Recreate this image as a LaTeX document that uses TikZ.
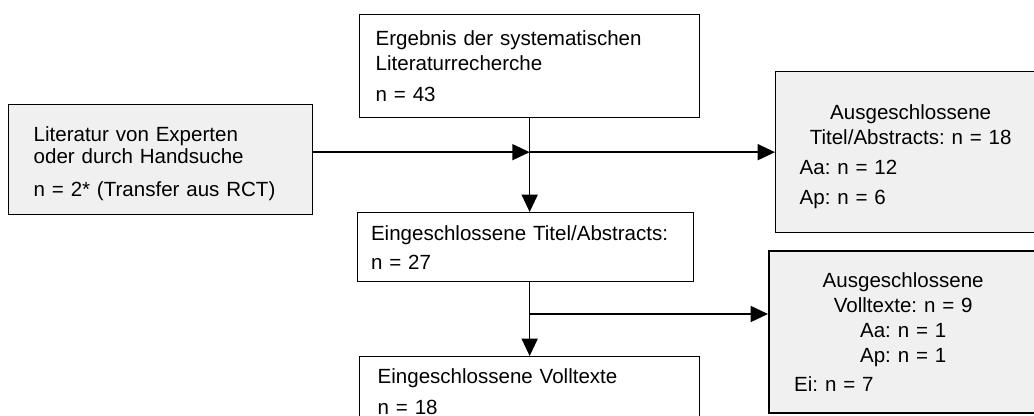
\documentclass[tikz,border=0pt]{standalone}
\usepackage{fontspec}
\setmainfont{Liberation Sans}
\usetikzlibrary{positioning,arrows.meta}

\begin{document}
\frenchspacing
\begin{tikzpicture}[x=0.75pt,y=-0.75pt,
    box/.style = {draw, rectangle, anchor=north west, line width=1pt, inner xsep=12pt, inner ysep=0pt,
                  align=left, font=\fontsize{15.4}{18.75}\selectfont},
    grey/.style = {fill=black!6},
    arr/.style = {line width=1.1pt, -{Triangle[length=13pt,width=12pt]}}]
                        \path[use as bounding box, clip] (0,0) rectangle (1034,416);

                        \node[box, text width=231pt, minimum height=77.25pt](erg) at (359,14)
                            {Ergebnis der systematischen\\Literaturrecherche\\[4pt]n = 43};
                        \node[box, grey, inner xsep=18.75pt, text width=190.5pt, minimum height=82.5pt](lit) at (8,104)
                            {\rule{0pt}{17pt}Literatur von Experten\\[-2pt]oder durch Handsuche\\[6pt]n = 2* (Transfer aus RCT)};
                        \node[box, inner xsep=10pt, text width=232pt, minimum height=51.75pt](ti) at (357,212)
                            {Eingeschlossene Titel/Abstracts:\\[3pt]n = 27};
                        \node[box, inner xsep=13.5pt, text width=228pt, minimum height=52.5pt](vt) at (359,356)
                            {Eingeschlossene Volltexte\\[4pt]n = 18};
                        \node[box, grey, inner xsep=18pt, text width=166.5pt, minimum height=120.75pt](ex1) at (775,71)
                            {{\centering \rule{0pt}{18pt}Ausgeschlossene\\Titel/Abstracts: n = 18\par}\vspace{4pt}
                             Aa: n = 12\\[4pt]Ap: n = 6};
                        \node[box, grey, line width=1.8pt, inner xsep=18.75pt, text width=163.5pt, minimum height=121.5pt](ex2) at (768,250)
                            {{\centering Ausgeschlossene\\Volltexte: n = 9\\Aa: n = 1\\Ap: n = 1\par}\vspace{3pt}
                             Ei: n = 7};

                        \coordinate (j1) at (erg.south |- ex1.west);
                        \coordinate (j2) at (529,314);

                        \draw[arr] (lit.east |- j1) -- (j1);
                        \draw[arr] (j1) -- (ex1.west);
                        \draw[arr] (erg.south) -- (erg.south |- ti.north);
                        \draw[arr] (erg.south |- ti.south) -- (vt.north);
                        \draw[arr] (j2) -- (j2 -| ex2.west);
                    \end{tikzpicture}
\end{document}
